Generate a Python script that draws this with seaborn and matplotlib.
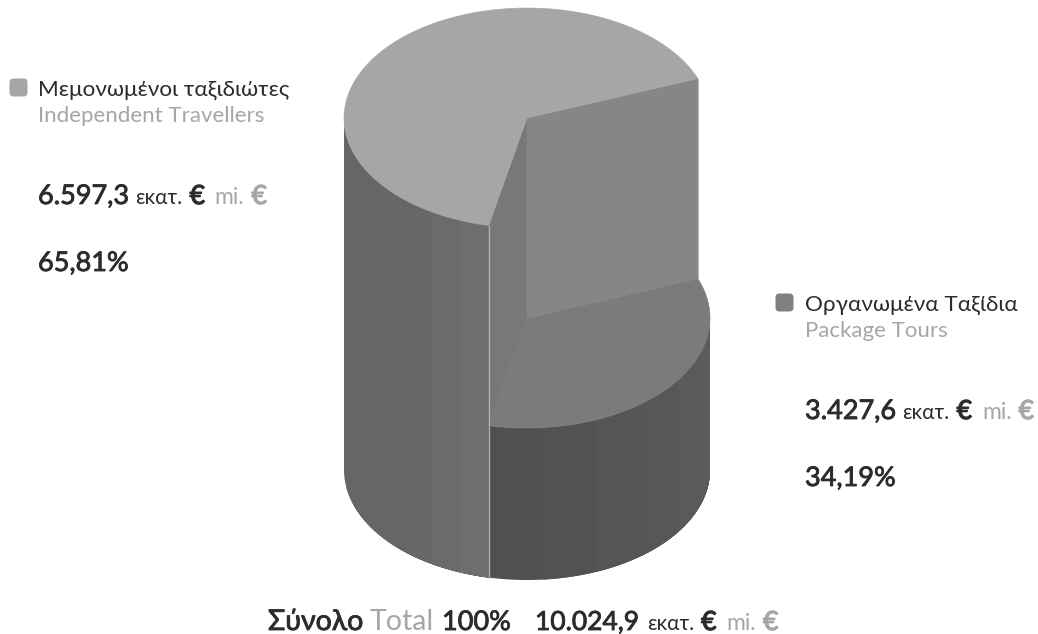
import numpy as np
import matplotlib
matplotlib.use("Agg")
import matplotlib.pyplot as plt
import matplotlib.patheffects as pe
from matplotlib.patches import FancyBboxPatch, Polygon
import seaborn as sns

# Market values in million euros
segments_el = ["Μεμονωμένοι ταξιδιώτες", "Οργανωμένα Ταξίδια"]
segments_en = ["Independent Travellers", "Package Tours"]
values = [6597.3, 3427.6]
value_labels = ["6.597,3", "3.427,6"]
share_labels = ["65,81%", "34,19%"]
total_label = "10.024,9"

sns.set_theme(style="white")
plt.rcParams["font.family"] = ["Lato", "Noto Sans", "DejaVu Sans"]

DARK, GREY = "#2c2c2c", "#a6a6a6"
TOP_LIGHT, TOP_DARK = "#a6a6a6", "#7b7b7b"

# Cylinder geometry in pixel units
CX, RX, RY = 527, 183, 110
Y_HIGH, Y_LOW, Y_BASE = 118, 318, 470
START = 21.0

fig = plt.figure(figsize=(10.38, 6.34), dpi=100, facecolor="white")
ax = fig.add_axes([0, 0, 1, 1])
ax.set_xlim(0, 1038)
ax.set_ylim(634, 0)
ax.axis("off")


def rim(t0, t1, cy, n=120):
    t = np.radians(np.linspace(t0, t1, n))
    return np.column_stack([CX + RX * np.cos(t), cy - RY * np.sin(t)])


def sector(t0, t1, cy, color, z):
    pts = np.vstack([[CX, cy], rim(t0, t1, cy)])
    ax.add_patch(Polygon(pts, closed=True, fc=color, ec=color, lw=0.4, zorder=z))


def side(t0, t1, y_top, colors, z):
    # Curved wall built from vertical shading bands, each one running under the next
    edges = np.linspace(t0, t1, len(colors) + 1)
    for a, c in zip(edges[:-1], colors):
        pts = np.vstack([rim(a, t1, y_top, 60), rim(t1, a, Y_BASE, 60)])
        ax.add_patch(Polygon(pts, closed=True, fc=c, ec="none", zorder=z))


def wall(t, color, z):
    edge = rim(t, t, Y_HIGH, 1)[0]
    drop = Y_LOW - Y_HIGH
    pts = [(CX, Y_HIGH), edge, (edge[0], edge[1] + drop), (CX, Y_LOW)]
    ax.add_patch(Polygon(pts, closed=True, fc=color, ec=color, lw=0.4, zorder=z))
    return edge


sweep = 360 * values[0] / sum(values)
end = START + sweep

# Lower slice: outer wall and top surface
side(end, 360, Y_LOW, sns.blend_palette(["#505050", "#5c5c5c"], 6), 1)
sector(end - 360, START, Y_LOW, TOP_DARK, 2)

# Raised slice: outer wall, cut faces and top surface
side(180, end, Y_HIGH, sns.blend_palette(["#666666", "#666666", "#666666", "#6e6e6e"], 8), 3)
e_front = wall(end, "#787878", 3)
e_back = wall(START, "#868686", 3)
sector(START, end, Y_HIGH, TOP_LIGHT, 4)

# Thin highlights along the vertical seams
ax.plot([e_front[0]] * 2, [e_front[1], rim(end, end, Y_BASE, 1)[0][1]],
        color="#b4b4b4", lw=0.9, zorder=5)
ax.plot([e_back[0]] * 2, [e_back[1], e_back[1] + Y_LOW - Y_HIGH],
        color="#b4b4b4", lw=0.7, zorder=5)


def runs(x, y, parts):
    # Writes differently styled pieces one after another on a shared baseline.
    # A stroke value above zero thickens the regular weight to a medium look.
    rend = fig.canvas.get_renderer()
    for text, size, color, stroke, gap in parts:
        t = ax.text(x, y, text, fontsize=size, color=color,
                    ha="left", va="baseline", zorder=6)
        if stroke:
            t.set_path_effects([pe.withStroke(linewidth=stroke, foreground=color)])
        x = t.get_window_extent(rend).x1 + gap


def swatch(x, y, color):
    ax.add_patch(FancyBboxPatch((x, y), 13, 13, boxstyle="round,pad=2.5,rounding_size=4",
                                fc=color, ec="none", zorder=6))


MEDIUM = 0.6


def money_tail():
    return [("εκατ.", 15, DARK, 0, 7),
            ("€", 19, DARK, 0.9, 10),
            ("mi.", 16.5, GREY, 0, 7),
            ("€", 19, GREY, 0.9, 0)]


def block(x, y_name, i, swatch_x, swatch_y, swatch_color):
    swatch(swatch_x, swatch_y, swatch_color)
    runs(x, y_name, [(segments_el[i], 16.2, DARK, 0, 0)])
    runs(x, y_name + 26, [(segments_en[i], 16, GREY, 0, 0)])
    runs(x, y_name + 108, [(value_labels[i], 19.5, DARK, MEDIUM, 6)] + money_tail())
    runs(x, y_name + 175, [(share_labels[i], 19.5, DARK, MEDIUM, 0)])


block(38, 96, 0, 12, 81, TOP_LIGHT)
block(805, 311, 1, 778, 296, "#808080")

runs(268, 630, [("Σύνολο", 20.5, DARK, MEDIUM, 6),
                ("Total", 20.5, GREY, 0, 8),
                ("100%", 19.5, DARK, MEDIUM, 24),
                (total_label, 19, DARK, MEDIUM, 8)] + money_tail())

fig.savefig("out.png", dpi=100, facecolor="white")
